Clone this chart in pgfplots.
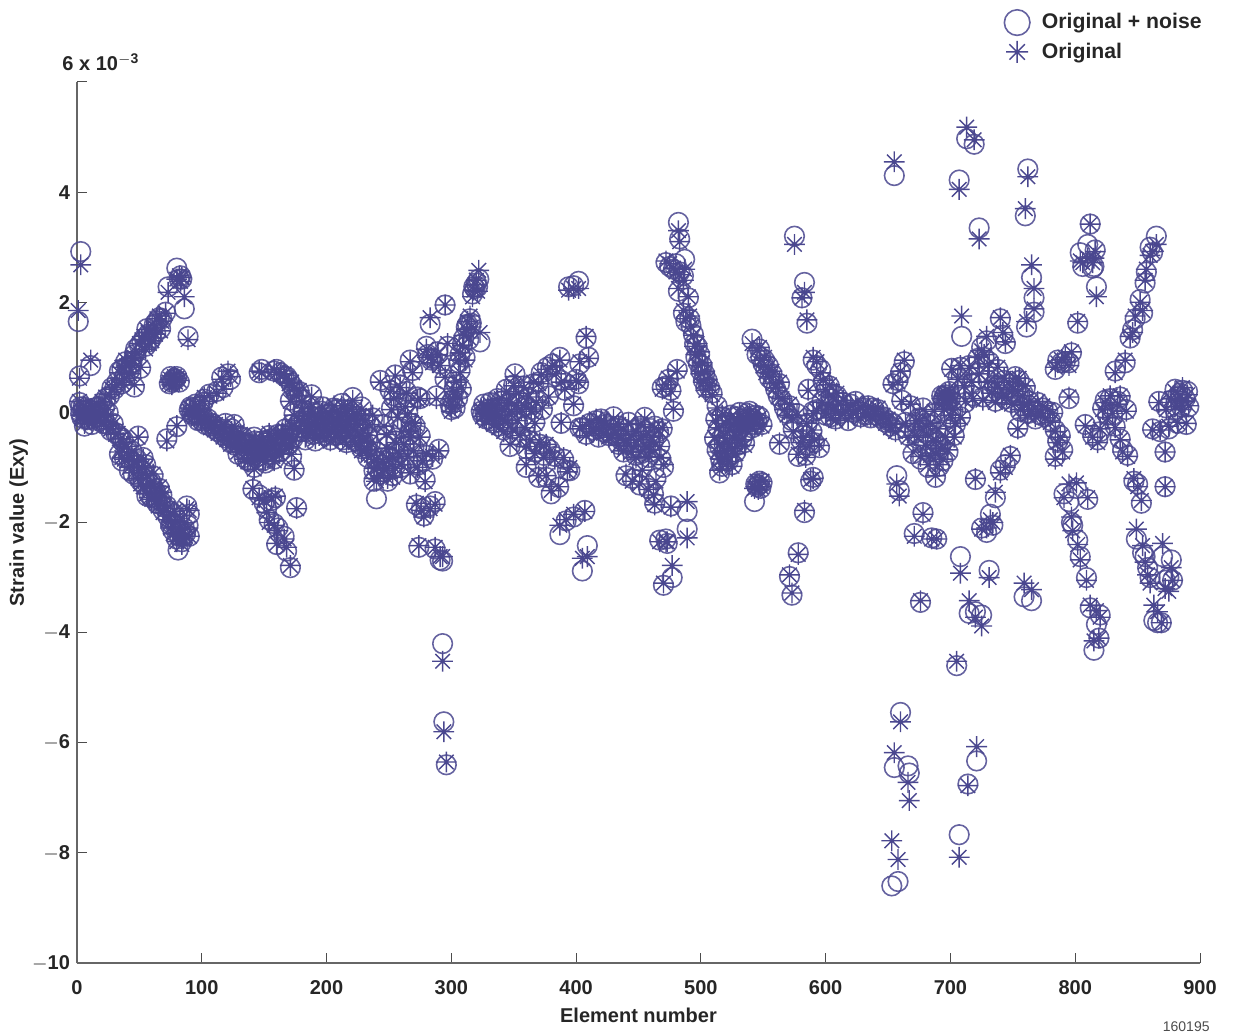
\documentclass[border=0pt]{standalone}
\usepackage{pgfplots}
\usepackage{pgfplotstable}
\usepackage{fontspec}
\setmainfont{Liberation Sans}
\pgfplotsset{compat=1.18}
\definecolor{ink}{RGB}{74,71,143}
\pgfdeclareplotmark{star8}{%
  \pgfpathmoveto{\pgfqpoint{0pt}{\pgfplotmarksize}}\pgfpathlineto{\pgfqpoint{0pt}{-\pgfplotmarksize}}%
  \pgfpathmoveto{\pgfqpoint{\pgfplotmarksize}{0pt}}\pgfpathlineto{\pgfqpoint{-\pgfplotmarksize}{0pt}}%
  \pgfpathmoveto{\pgfqpoint{0.7\pgfplotmarksize}{0.7\pgfplotmarksize}}\pgfpathlineto{\pgfqpoint{-0.7\pgfplotmarksize}{-0.7\pgfplotmarksize}}%
  \pgfpathmoveto{\pgfqpoint{0.7\pgfplotmarksize}{-0.7\pgfplotmarksize}}\pgfpathlineto{\pgfqpoint{-0.7\pgfplotmarksize}{0.7\pgfplotmarksize}}%
  \pgfusepathqstroke}
\pgfplotstableread[row sep=\\]{
x o n\\
3 2.68 2.92\\ 1 1.85 1.65\\ 2 .62 .66\\ 11 .95 .85\\
2 .2 .18\\ 3 -.05 -.02\\ 3 .05 .1\\ 4 -.12 -.1\\ 5 0 .03\\ 5 .12 .1\\ 6 -.2 -.25\\ 7 -.02 0\\ 7 .08 .05\\ 8 -.14 -.12\\ 9 .02 .05\\ 10 -.1 -.13\\ 11 .03 -.01\\ 12 -.2 -.22\\ 13 -.05 -.02\\ 14 .05 .08\\ 15 -.1 -.08\\ 16 .02 0\\ 17 .12 .1\\ 18 -.14 -.16\\ 19 -.03 0\\ 20 .2 .17\\ 21 -.18 -.2\\ 22 .05 .08\\ 23 .28 .25\\ 24 -.25 -.22\\ 25 -.05 0\\ 26 .32 .3\\ 27 -.3 -.33\\ 28 .42 .45\\ 29 -.22 -.2\\
30 .45 .42\\ 31 -.4 -.37\\ 32 .5 .55\\ 33 -.38 -.42\\ 34 .72 .75\\ 34 -.72 -.76\\ 35 -.48 -.45\\ 36 .82 .78\\ 37 -.55 -.5\\ 38 .62 .65\\ 38 -.85 -.82\\ 40 .85 .82\\ 40 -.62 -.65\\ 42 -1.0 -1.06\\ 42 .7 .75\\ 44 .95 .9\\ 44 -.72 -.7\\ 45 -1.1 -1.12\\ 46 .5 .46\\ 47 1.1 1.15\\ 48 -.9 -.85\\ 49 -.45 -.43\\ 49 -1.2 -1.16\\ 50 1.25 1.22\\ 51 .82 .8\\ 52 -1.0 -1.05\\ 53 -.85 -.82\\ 53 -1.35 -1.3\\ 54 1.38 1.35\\ 55 1.15 1.2\\ 56 -1.15 -1.18\\ 56 -1.48 -1.52\\ 57 1.45 1.42\\ 58 1.25 1.28\\ 59 -1.3 -1.25\\ 60 -1.58 -1.55\\ 61 -1.12 -1.15\\ 62 1.55 1.6\\ 63 -1.5 -1.45\\ 63 1.42 1.45\\ 65 -1.7 -1.66\\ 66 1.75 1.72\\ 66 -1.35 -1.38\\ 67 -1.55 -1.6\\ 68 1.65 1.7\\ 69 -1.82 -1.78\\ 70 -1.7 -1.72\\ 71 1.8 1.82\\ 72 -.52 -.48\\ 73 2.18 2.28\\ 73 -1.95 -1.9\\ 75 -1.85 -1.8\\ 75 -2.1 -2.05\\
74 .55 .52\\ 75 .6 .65\\ 76 .5 .55\\ 77 .6 .58\\ 78 .65 .62\\ 79 .55 .6\\ 80 .62 .65\\ 82 .58 .55\\ 80 -.24 -.26\\ 89 1.32 1.38\\ 86 2.1 1.88\\ 80 2.42 2.62\\ 82 2.48 2.42\\ 84 2.45 2.42\\ 83 2.38 2.48\\
77 -2.2 -2.15\\ 79 -2.0 -2.05\\ 80 -2.35 -2.3\\ 81 -2.25 -2.5\\ 82 -2.2 -2.25\\ 83 -2.1 -2.15\\ 84 -2.4 -2.35\\ 85 -2.3 -2.25\\ 86 -2.0 -2.1\\ 87 -2.25 -2.2\\ 88 -1.75 -1.7\\ 89 -2.1 -2.05\\ 90 -2.25 -2.25\\ 90 -1.78 -1.85\\
90 .02 .05\\ 91 .08 .1\\ 92 -.05 -.02\\ 93 .05 .08\\ 94 -.08 -.05\\ 95 .12 .15\\ 96 -.05 -.02\\ 97 -.12 -.15\\ 98 .08 .12\\ 99 -.08 -.05\\ 100 -.18 -.15\\ 101 .2 .18\\ 102 .27 .24\\ 102 -.08 -.12\\ 103 -.2 -.22\\ 105 -.15 -.12\\ 106 .3 .33\\ 107 -.28 -.25\\ 108 -.18 -.2\\ 110 -.32 -.3\\ 111 -.22 -.25\\ 112 .35 .38\\ 113 -.38 -.35\\ 115 -.28 -.3\\ 116 .6 .64\\ 117 -.45 -.42\\ 117 .42 .45\\ 118 -.35 -.38\\ 119 -.22 -.2\\ 120 -.5 -.47\\ 121 .75 .7\\ 122 -.4 -.43\\ 123 .65 .6\\ 123 -.58 -.55\\ 125 -.45 -.48\\ 126 -.25 -.22\\ 127 -.62 -.6\\ 128 -.5 -.55\\ 129 -.72 -.76\\ 130 -.55 -.52\\ 132 -.68 -.66\\ 133 -.42 -.45\\ 134 -.85 -.82\\ 135 -.6 -.55\\ 136 -.72 -.75\\ 138 -.55 -.58\\ 139 -.85 -.9\\ 140 -.65 -.62\\ 141 -.78 -.75\\ 142 -1.03 -1.0\\ 143 -.55 -.52\\ 144 -.7 -.72\\ 145 -.82 -.8\\ 146 -.58 -.6\\ 147 -.72 -.7\\ 148 -.5 -.52\\ 149 -.85 -.88\\ 150 -.62 -.6\\ 152 -.75 -.72\\ 153 -.52 -.5\\ 155 -.68 -.7\\ 156 -.45 -.48\\ 157 -.8 -.76\\ 159 -.55 -.58\\ 160 -.68 -.65\\ 161 -.42 -.4\\ 163 -.6 -.55\\ 165 -.38 -.4\\ 166 -.55 -.58\\ 167 -.33 -.3\\ 168 -.48 -.5\\ 170 -.4 -.38\\
146 .75 .72\\ 148 .72 .78\\ 158 .78 .75\\ 160 .72 .78\\ 163 .68 .72\\ 166 .7 .66\\ 168 .62 .65\\ 170 .52 .58\\ 172 .55 .5\\ 174 .45 .42\\ 171 .2 .22\\ 176 .3 .35\\ 180 .2 .25\\ 188 .28 .32\\ 178 .4 .38\\
141 -1.38 -1.4\\ 146 -1.55 -1.5\\ 150 -1.6 -1.65\\ 152 -1.82 -1.75\\ 154 -2.0 -1.95\\ 156 -1.55 -1.6\\ 158 -2.05 -2.02\\ 159 -1.52 -1.55\\ 161 -2.15 -2.1\\ 160 -2.38 -2.4\\ 166 -2.3 -2.25\\ 168 -2.45 -2.52\\ 171 -2.78 -2.82\\ 176 -1.75 -1.73\\ 174 -1.02 -1.05\\ 172 -.76 -.8\\
172 -.25 -.22\\ 174 -.05 -.02\\ 176 -.3 -.28\\ 178 -.15 -.18\\ 180 -.32 -.35\\ 181 .02 .05\\ 182 -.18 -.15\\ 184 -.38 -.35\\ 185 -.08 -.1\\ 186 -.25 -.22\\ 188 -.02 0\\ 189 -.38 -.4\\ 190 -.18 -.15\\ 192 -.28 -.3\\ 193 -.1 -.08\\ 194 -.42 -.38\\ 195 -.2 -.22\\ 196 -.02 .02\\ 198 -.32 -.28\\ 199 -.12 -.15\\ 200 -.45 -.42\\ 201 -.22 -.2\\ 202 0 -.02\\ 204 -.35 -.32\\ 205 -.12 -.15\\ 206 -.25 -.28\\ 207 -.45 -.42\\ 208 .02 .05\\ 209 -.18 -.2\\ 210 -.35 -.38\\ 211 -.08 -.05\\ 212 -.28 -.25\\ 213 -.48 -.5\\ 214 .08 .05\\ 215 -.15 -.18\\ 216 -.32 -.35\\ 217 .02 -.02\\ 218 -.22 -.2\\ 219 -.42 -.45\\ 220 -.12 -.08\\ 221 .22 .27\\ 222 -.32 -.3\\ 223 -.55 -.52\\ 224 -.05 -.08\\ 225 -.22 -.25\\ 226 -.42 -.4\\ 227 -.62 -.58\\ 228 .05 .1\\ 229 -.32 -.3\\ 230 -.52 -.55\\ 231 -.15 -.12\\ 232 -.68 -.65\\ 233 -.42 -.45\\ 234 -.22 -.2\\ 235 -.55 -.58\\ 236 -.78 -.75\\ 237 -.05 -.1\\
238 -1.02 -1.06\\ 238 -1.2 -1.25\\ 240 -1.25 -1.57\\ 240 -.85 -.88\\ 241 -1.0 -1.02\\ 243 .55 .58\\ 243 -1.15 -1.12\\ 245 -.9 -.88\\ 246 -.25 -.22\\ 246 -1.05 -1.08\\ 248 -.4 -.42\\ 248 -.65 -.62\\ 249 -1.2 -1.25\\ 250 -.85 -.8\\ 251 .38 .4\\ 252 .05 .08\\ 253 -1.18 -1.15\\ 253 -.82 -.85\\ 254 .25 .3\\ 255 .66 .68\\ 255 -1.02 -.98\\ 256 -.55 -.52\\ 257 -.09 -.12\\ 258 -.75 -.72\\ 259 .45 .5\\ 260 -.35 -.3\\ 260 -.95 -1.0\\ 262 -.58 -.6\\ 263 .1 .15\\ 264 .35 .38\\ 265 -.03 0\\ 265 -.8 -.85\\ 266 -.35 -.4\\ 267 .92 .95\\ 267 -.45 -.48\\ 267 -1.1 -1.12\\ 268 -.18 -.2\\ 269 .72 .76\\ 270 -.7 -.65\\ 271 -.2 -.25\\ 272 -1.65 -1.68\\ 273 .22 .28\\ 273 -1.0 -.96\\ 274 -2.42 -2.45\\ 275 .25 .25\\ 275 -.45 -.42\\ 276 -1.78 -1.75\\ 277 -.88 -.9\\ 278 -1.9 -1.88\\ 279 -1.26 -1.22\\ 280 1.15 1.2\\ 280 -.75 -.78\\ 281 1.0 1.05\\ 283 1.72 1.6\\ 283 -1.75 -1.7\\ 284 1.0 .95\\ 285 .9 .98\\ 285 -.8 -.85\\ 287 -2.45 -2.48\\ 287 -1.67 -1.62\\ 288 .25 .3\\ 289 1.05 1.1\\ 290 -.7 -.67\\ 291 -2.62 -2.68\\ 293 -2.62 -2.7\\ 291 .85 .88\\ 295 1.95 1.95\\ 295 .64 .6\\ 297 1.25 1.2\\ 293 -4.52 -4.2\\ 294 -5.8 -5.62\\ 296 -6.35 -6.4\\ 299 .12 .15\\
300 .02 .05\\ 301 .25 .22\\ 302 .38 .4\\ 303 .12 .08\\ 304 .55 .5\\ 305 .28 .25\\ 306 .95 .9\\ 307 .72 .76\\ 307 1.08 1.05\\ 308 .45 .42\\ 309 1.22 1.25\\ 310 1.4 1.35\\ 311 .95 1.0\\ 312 1.5 1.55\\ 313 1.65 1.6\\ 314 1.35 1.32\\ 315 1.75 1.7\\ 316 1.55 1.62\\ 317 2.1 2.15\\ 318 2.22 2.28\\ 319 2.32 2.25\\ 320 2.4 2.35\\ 321 2.2 2.28\\ 322 2.58 2.42\\ 323 1.45 1.28\\
324 .05 .02\\ 325 -.08 -.05\\ 326 .12 .15\\ 327 -.02 0\\ 328 -.15 -.12\\ 329 .08 .05\\ 330 0 -.03\\ 331 .15 .18\\ 332 -.12 -.15\\ 333 .02 .05\\ 334 -.22 -.2\\ 335 .12 .08\\ 336 -.05 -.08\\ 337 .22 .25\\ 338 -.28 -.25\\ 339 -.05 0\\ 340 .25 .2\\ 341 -.12 -.15\\ 342 -.35 -.32\\ 343 .05 .08\\ 344 .38 .42\\ 345 -.2 -.22\\ 346 .18 .15\\ 347 -.58 -.62\\ 348 .02 -.02\\ 349 -.32 -.3\\ 350 .48 .5\\ 351 .65 .7\\ 352 .12 .15\\ 353 -.15 -.18\\ 354 .35 .3\\ 355 -.42 -.45\\ 356 .05 .08\\ 358 .45 .48\\ 359 -.28 -.25\\ 360 .09 .12\\ 360 -.62 -.66\\ 360 -.95 -1.0\\ 362 .28 .25\\ 363 -.5 -.52\\ 364 .02 .05\\ 366 .55 .52\\ 367 -.2 -.18\\ 367 -.75 -.72\\ 368 .18 .22\\ 370 .52 .55\\ 370 -1.15 -1.18\\ 371 -.55 -.58\\ 372 .68 .72\\ 373 .08 .05\\ 374 -.82 -.78\\ 376 -1.15 -1.18\\ 376 -.58 -.62\\ 377 .78 .82\\ 378 .28 .3\\ 379 -.72 -.68\\ 380 -1.42 -1.48\\ 381 .85 .88\\ 383 -.85 -.8\\ 384 .7 .65\\ 386 -1.35 -1.36\\ 387 .95 1.0\\ 388 -.18 -.2\\ 388 .55 .58\\ 390 -.82 -.85\\ 391 .42 .4\\ 392 -1.95 -1.97\\ 393 -1.08 -1.05\\ 395 -1.0 -1.06\\ 387 -2.05 -2.22\\ 398 .15 .12\\ 398 -1.85 -1.9\\ 400 .58 .6\\ 394 2.22 2.28\\ 398 2.25 2.3\\ 402 2.25 2.38\\ 402 .55 .52\\ 403 -.3 -.28\\ 403 .92 .88\\ 407 -1.8 -1.78\\ 408 1.38 1.35\\ 410 .98 1.0\\ 405 -2.65 -2.88\\ 409 -2.62 -2.42\\
405 -.25 -.28\\ 408 -.42 -.4\\ 411 -.18 -.2\\ 414 -.35 -.32\\ 416 -.12 -.15\\ 418 -.28 -.3\\ 420 -.15 -.12\\ 422 -.38 -.35\\ 424 -.2 -.22\\ 426 -.45 -.42\\ 428 -.28 -.25\\ 430 -.12 -.08\\ 432 -.38 -.42\\ 434 -.22 -.25\\ 436 -.48 -.5\\ 438 -.32 -.3\\ 440 -.55 -.58\\ 440 -1.12 -1.15\\ 442 -.2 -.18\\ 444 -.42 -.38\\ 445 -1.25 -1.2\\ 446 -.62 -.6\\ 448 -.35 -.32\\ 450 -.5 -.55\\ 451 -1.3 -1.32\\ 452 -.72 -.75\\ 453 -1.05 -1.0\\ 454 -.42 -.45\\ 455 -.12 -.09\\ 456 -.62 -.58\\ 458 -.8 -.82\\ 458 -1.4 -1.38\\ 460 -.45 -.42\\ 462 -.55 -.52\\ 462 -1.5 -1.48\\ 463 -1.68 -1.65\\ 464 -1.25 -1.2\\ 466 -.32 -.35\\ 467 -.62 -.6\\ 468 -.82 -.85\\ 469 -.28 -.3\\ 470 -.95 -1.0\\ 467 -2.35 -2.32\\ 472 -2.35 -2.3\\ 470 -3.1 -3.14\\ 473 -2.35 -2.38\\ 477 -2.78 -3.0\\ 476 -1.72 -1.7\\ 489 -1.62 -1.8\\ 489 -2.28 -2.12\\
469 .42 .45\\ 472 .5 .48\\ 474 .62 .6\\ 476 .38 .4\\ 478 .06 .02\\ 481 .75 .78\\ 482 3.3 3.45\\ 483 3.1 3.15\\ 487 2.6 2.78\\ 472 2.75 2.72\\ 475 2.7 2.65\\ 478 2.62 2.6\\ 480 2.55 2.7\\ 483 2.5 2.55\\ 486 2.4 2.48\\ 482 2.25 2.2\\ 490 2.1 2.08\\ 486 1.85 1.8\\ 488 1.7 1.65\\ 491 1.75 1.7\\ 492 1.55 1.58\\ 494 1.4 1.42\\ 495 1.2 1.25\\ 496 1.05 1.0\\ 497 1.25 1.2\\ 498 .85 .9\\ 499 1.1 1.05\\ 500 .7 .75\\ 501 .9 .85\\ 502 .55 .58\\ 503 .75 .7\\ 504 .4 .45\\ 505 .6 .58\\ 507 .48 .45\\ 509 .32 .35\\ 
513 .08 .12\\ 512 -.15 -.12\\ 511 -.45 -.48\\ 513 -.72 -.68\\ 514 -.28 -.3\\ 515 -1.05 -1.1\\ 515 -.58 -.62\\ 516 -.85 -.88\\ 517 -.05 -.08\\ 518 -.42 -.45\\ 519 -.7 -.72\\ 520 -.2 -.18\\ 521 -.55 -.52\\ 522 -.9 -.88\\ 523 -.32 -.35\\ 524 -.08 -.05\\ 525 -.65 -.62\\ 526 -.22 -.25\\ 527 -.48 -.45\\ 528 -.75 -.72\\ 529 -.12 -.08\\ 530 -.35 -.32\\ 531 -.02 0\\ 532 -.25 -.28\\ 533 -.5 -.48\\ 534 -.15 -.12\\ 536 -.3 -.35\\ 537 -.05 -.02\\ 538 -.2 -.18\\ 540 -.08 -.1\\ 541 -.3 -.28\\ 542 -.12 -.15\\ 544 -.02 -.05\\ 545 -.22 -.18\\ 547 -.1 -.08\\ 549 -.25 -.22\\
543 -1.38 -1.62\\ 544 -1.35 -1.3\\ 545 -1.25 -1.35\\ 546 -1.4 -1.32\\ 547 -1.3 -1.25\\ 548 -1.35 -1.38\\ 549 -1.25 -1.28\\
541 1.25 1.33\\ 545 1.12 1.05\\ 547 1.18 1.15\\ 548 .95 1.0\\ 550 .85 .88\\ 551 1.0 .95\\ 552 .72 .78\\ 554 .82 .85\\ 555 .65 .62\\ 557 .75 .7\\ 558 .52 .55\\ 560 .45 .42\\ 562 .28 .3\\ 563 .55 .52\\ 565 .25 .22\\ 563 -.55 -.58\\ 567 .05 .08\\ 569 -.05 -.02\\ 571 .15 .12\\ 573 -.1 -.15\\ 574 -.35 -.3\\ 578 -.76 -.8\\ 577 -.05 -.02\\ 580 -.55 -.5\\ 582 -.45 -.42\\ 584 -.82 -.78\\ 585 -.2 -.22\\ 587 -.62 -.6\\ 589 -.32 -.35\\ 590 -.02 .02\\ 591 -.5 -.55\\ 593 .03 .05\\ 595 -.6 -.64\\ 586 .4 .42\\ 588 -1.22 -1.25\\ 590 -1.2 -1.18\\ 583 -1.78 -1.82\\ 578 -2.58 -2.55\\ 571 -2.95 -2.98\\ 573 -3.28 -3.32\\ 575 3.05 3.2\\ 581 2.08 2.08\\ 583 2.18 2.36\\ 585 1.68 1.62\\
590 1.0 .95\\ 593 .92 .85\\ 596 .72 .78\\ 598 .58 .55\\ 600 .42 .45\\ 603 .5 .48\\ 606 .28 .32\\ 609 .35 .3\\
597 .18 .2\\ 600 -.02 -.05\\ 602 .12 .15\\ 604 -.1 -.08\\ 606 .05 .02\\ 608 -.15 -.12\\ 610 .15 .18\\ 612 -.05 -.02\\ 614 .22 .18\\ 616 .02 .05\\ 618 -.12 -.15\\ 620 .12 .15\\ 622 -.02 0\\ 624 .18 .2\\ 626 .05 .02\\ 628 -.1 -.08\\ 630 .12 .08\\ 632 -.02 -.05\\ 634 .1 .12\\ 636 -.08 -.1\\ 638 .05 .08\\ 640 -.02 -.05\\ 642 .08 .05\\ 644 -.12 -.1\\ 646 -.05 -.08\\ 648 -.2 -.18\\ 650 -.12 -.15\\ 652 -.28 -.25\\ 654 -.22 -.2\\ 656 -.35 -.32\\ 
655 4.55 4.3\\ 654 .5 .52\\ 657 -1.3 -1.15\\ 659 -1.52 -1.42\\ 653 -7.78 -8.6\\ 658 -8.12 -8.52\\ 655 -6.18 -6.45\\ 660 -5.62 -5.45\\ 666 -6.72 -6.42\\ 667 -7.05 -6.55\\
663 .95 .92\\ 660 .75 .72\\ 658 .55 .58\\ 661 .2 .22\\ 664 -.2 -.18\\ 666 -.45 -.42\\ 668 .15 .12\\ 670 -.72 -.75\\ 672 -.15 -.18\\ 674 -.45 -.48\\ 676 -.8 -.85\\ 678 .05 .08\\ 678 -.32 -.28\\ 680 -.6 -.58\\ 682 -.95 -1.0\\ 684 -.2 -.22\\ 686 -.52 -.5\\ 688 -.75 -.72\\ 688 -1.15 -1.18\\ 690 -.3 -.35\\ 692 -.65 -.6\\ 694 -.85 -.88\\ 695 .05 .02\\ 696 -.45 -.42\\ 
671 -2.25 -2.2\\ 678 -1.85 -1.82\\ 685 -2.3 -2.28\\ 676 -3.42 -3.45\\ 689 -2.3 -2.3\\
693 .25 .3\\ 694 .18 .22\\ 695 .3 .28\\ 696 .35 .32\\ 697 .22 .2\\ 698 .28 .25\\ 699 .35 .38\\ 700 .25 .28\\ 701 .78 .8\\ 702 .05 .02\\ 704 -.2 -.22\\ 706 .6 .62\\ 708 .85 .82\\ 709 1.75 1.38\\ 708 -.1 -.08\\ 711 .48 .45\\ 712 .2 .18\\ 715 .8 .85\\ 717 .55 .52\\ 718 .25 .3\\ 720 -1.2 -1.22\\ 722 1.0 .98\\ 723 .7 .72\\ 725 1.12 1.18\\ 727 1.05 1.0\\ 729 1.38 1.3\\ 731 .88 .92\\ 733 .35 .38\\ 735 .55 .5\\ 736 .18 .2\\ 738 .45 .48\\ 740 1.72 1.7\\ 742 1.45 1.4\\ 744 1.28 1.25\\ 743 .62 .58\\ 745 .28 .25\\ 747 .55 .52\\ 749 .15 .18\\ 752 .62 .65\\ 754 .38 .35\\ 756 .05 .02\\ 758 .3 .35\\ 760 .48 .45\\ 762 -.05 -.02\\ 763 .18 .2\\ 
748 -.78 -.8\\ 744 -1.0 -.95\\ 740 -1.1 -1.05\\ 736 -1.45 -1.55\\ 732 -1.95 -1.85\\ 729 -2.1 -2.18\\ 734 -2.0 -2.05\\ 725 -2.12 -2.1\\ 715 -3.42 -3.65\\ 720 -3.72 -3.62\\ 725 -3.88 -3.68\\ 731 -3.0 -2.87\\ 708 -2.92 -2.62\\ 705 -4.52 -4.6\\ 707 -8.08 -7.67\\ 714 -6.78 -6.75\\ 721 -6.07 -6.33\\ 
707 4.05 4.22\\ 713 5.18 4.97\\ 719 4.95 4.87\\ 723 3.15 3.35\\ 762 4.28 4.42\\ 760 3.7 3.57\\ 765 2.68 2.45\\ 767 2.25 2.08\\ 767 1.88 1.82\\ 761 1.65 1.55\\ 
759 -3.1 -3.35\\ 765 -3.22 -3.42\\ 754 -.3 -.28\\ 765 .02 .05\\ 768 -.08 -.12\\ 770 .2 .18\\ 772 -.02 -.05\\ 774 .12 .08\\ 776 -.1 -.08\\ 778 .05 .02\\ 780 -.18 -.15\\ 782 -.02 0\\ 784 -.35 -.32\\ 786 -.55 -.52\\ 784 -.85 -.8\\ 788 -.45 -.42\\ 790 -.72 -.68\\ 
784 .82 .78\\ 786 .9 .95\\ 789 .96 .9\\ 792 1.0 .92\\ 795 .85 .9\\ 797 1.1 1.08\\ 802 1.65 1.62\\ 795 .28 .25\\ 
806 2.72 2.65\\ 804 2.75 2.9\\ 810 2.8 3.05\\ 812 3.42 3.42\\ 815 2.8 2.65\\ 816 2.92 2.95\\ 814 2.72 2.62\\ 817 2.1 2.28\\ 
791 -1.55 -1.48\\ 795 -1.3 -1.62\\ 797 -1.9 -2.0\\ 798 -2.15 -2.05\\ 801 -1.28 -1.38\\ 802 -2.4 -2.32\\ 804 -2.68 -2.62\\ 809 -3.05 -3.0\\ 810 -1.55 -1.58\\ 812 -3.5 -3.55\\ 815 -4.15 -4.32\\ 817 -3.6 -3.85\\ 820 -3.72 -3.68\\ 819 -4.1 -4.1\\ 
808 -.24 -.22\\ 814 -.45 -.42\\ 818 -.55 -.5\\ 820 -.3 -.35\\ 822 .05 .08\\ 824 .18 .22\\ 826 -.1 -.05\\ 828 .3 .25\\ 830 -.02 -.05\\ 832 .72 .75\\ 832 -.28 -.25\\ 834 .15 .2\\ 836 -.5 -.48\\ 836 .3 .28\\ 838 -.72 -.68\\ 840 .95 .9\\ 841 .02 .05\\ 842 -.8 -.78\\ 844 1.38 1.35\\ 846 1.45 1.5\\ 847 -1.2 -1.25\\ 848 1.75 1.7\\ 850 -1.35 -1.3\\ 852 2.0 2.05\\ 853 -1.6 -1.65\\ 854 1.85 1.8\\ 856 2.4 2.35\\ 857 2.6 2.55\\ 860 2.85 3.0\\ 862 2.92 2.9\\ 865 3.05 3.2\\ 849 -2.12 -2.3\\ 854 -2.42 -2.55\\ 856 -2.72 -2.62\\ 858 -2.95 -2.82\\ 860 -3.1 -3.0\\ 863 -3.5 -3.78\\ 866 -3.62 -3.82\\ 869 -3.82 -3.82\\ 870 -2.38 -2.62\\ 872 -3.2 -3.05\\ 875 -3.25 -3.0\\ 877 -2.82 -2.68\\ 878 -3.05 -3.05\\ 
872 -1.35 -1.35\\ 872 -.72 -.72\\ 862 -.32 -.3\\ 868 -.32 -.35\\ 867 .18 .2\\ 873 .05 .08\\ 875 -.25 -.3\\ 877 .25 .22\\ 880 .1 .05\\ 880 .38 .42\\ 882 -.18 -.2\\ 882 .25 .3\\ 884 .32 .35\\ 885 .05 .1\\ 886 .45 .4\\ 888 .2 .25\\ 889 -.2 -.22\\ 890 .32 .38\\ 891 .12 .1\\ 
36 .55 .52\\ 39 .95 .92\\ 43 .88 .85\\ 46 1.0 1.05\\ 52 1.32 1.28\\ 56 1.5 1.52\\ 60 1.3 1.35\\ 64 1.7 1.66\\ 67 1.48 1.52\\ 36 -.82 -.88\\ 41 -.78 -.82\\ 46 -.88 -.92\\ 51 -1.3 -1.25\\ 55 -1.0 -.95\\ 58 -1.55 -1.5\\ 62 -1.35 -1.42\\ 64 -1.6 -1.65\\ 68 -1.45 -1.5\\ 72 -1.75 -1.7\\ 76 -1.98 -2.02\\ 78 -1.8 -1.85\\
124 -.35 -.3\\ 131 -.4 -.45\\ 137 -.9 -.88\\ 142 -.5 -.45\\ 151 -.88 -.92\\ 154 -.38 -.42\\ 158 -.88 -.85\\ 162 -.75 -.72\\ 164 -.45 -.5\\ 170 -.62 -.58\\ 173 -.52 -.48\\
183 -.45 -.5\\ 187 .08 .12\\ 191 -.48 -.52\\ 197 .08 .1\\ 203 -.52 -.5\\ 206 .12 .08\\ 212 .12 .16\\ 216 -.58 -.55\\ 222 -.02 .02\\ 228 -.7 -.66\\ 233 -.78 -.82\\
418 -.42 -.45\\ 428 -.42 -.38\\ 434 -.6 -.58\\ 438 -.7 -.72\\ 444 -.72 -.68\\ 448 -.82 -.78\\ 452 -.22 -.25\\ 459 -.68 -.72\\ 463 -.28 -.25\\
517 -.92 -.98\\ 521 -.82 -.85\\ 525 -.98 -.95\\ 529 -.62 -.6\\ 535 -.6 -.55\\ 539 -.02 .02\\ 543 -.2 -.22\\
671 -.42 -.38\\ 675 -.15 -.1\\ 681 -.25 -.2\\ 684 -.78 -.72\\ 687 .02 -.02\\ 689 -.52 -.55\\ 691 -.95 -.98\\ 698 -.68 -.72\\ 700 -.05 -.1\\ 703 -.45 -.42\\
726 .22 .28\\ 730 .55 .58\\ 738 .82 .78\\ 741 .28 .32\\ 750 .42 .38\\ 755 .62 .58\\ 759 .12 .08\\ 
}\datatable
\begin{document}
\begin{tikzpicture}
\path[use as bounding box] (-38.5pt,-35.5pt) rectangle (578pt,481.5pt);
\begin{axis}[
  at={(0pt,0pt)},
  scale only axis, width=561.5pt, height=440.5pt,
  xmin=0, xmax=900, ymin=-10, ymax=6,
  axis lines*=left, axis line style={black!60!white, line width=0.7pt, -},
  tick style={black!70, line width=0.5pt},
  tick align=inside, major tick length=5pt,
  xtick={0,100,...,900},
  ytick={-10,-8,...,4},
  extra y ticks={6}, extra y tick labels={},
  yticklabels={$-$10,$-$8,$-$6,$-$4,$-$2,0,2,4},
  xticklabels={0,100,200,300,400,500,600,700,800,900},
  ticklabel style={font=\bfseries\fontsize{10}{12}\selectfont, text=black!85},
  xticklabel style={yshift=-5pt},
  xlabel={\bfseries Element number},
  ylabel={\bfseries Strain value (Exy)},
  label style={font=\fontsize{10}{12}\selectfont, text=black!85},
  xlabel style={at={(axis description cs:0.5,0)}, anchor=north, yshift=-19pt},
  ylabel style={at={(axis description cs:0,0.5)}, anchor=south, yshift=21pt},
  scaled y ticks=false,
  clip=false,
  legend style={draw=none, fill=none, at={(1.0,1.0)}, anchor=north east, xshift=5pt, yshift=38.5pt,
    font=\bfseries\fontsize{10.6}{12}\selectfont, text=black!85, row sep=1.5pt,
    nodes={inner xsep=1pt}},
  legend cell align=left,
]
\addplot[only marks, mark=o, mark size=4.9pt, mark options={ink, line width=0.8pt, opacity=0.85},
  legend image post style={mark size=6.4pt}] table[x=x, y=n] {\datatable};
\addlegendentry{\hspace{5pt}Original + noise}
\addplot[only marks, mark=star8, mark size=5.2pt, mark options={ink, line width=0.7pt},
  legend image post style={mark size=5.5pt}] table[x=x, y=o] {\datatable};
\addlegendentry{\hspace{5pt}Original}
\node[anchor=south west, font=\bfseries\fontsize{10}{12}\selectfont, text=black!85, inner sep=0pt] at (axis cs:-12,6.2) {6 x 10$^{\mathbf{-3}}$};
\node[anchor=base east, font=\fontsize{7}{8}\selectfont, text=black!70, inner sep=0pt] at (axis cs:908,-11.25) {160195};
\end{axis}
\end{tikzpicture}
\end{document}
